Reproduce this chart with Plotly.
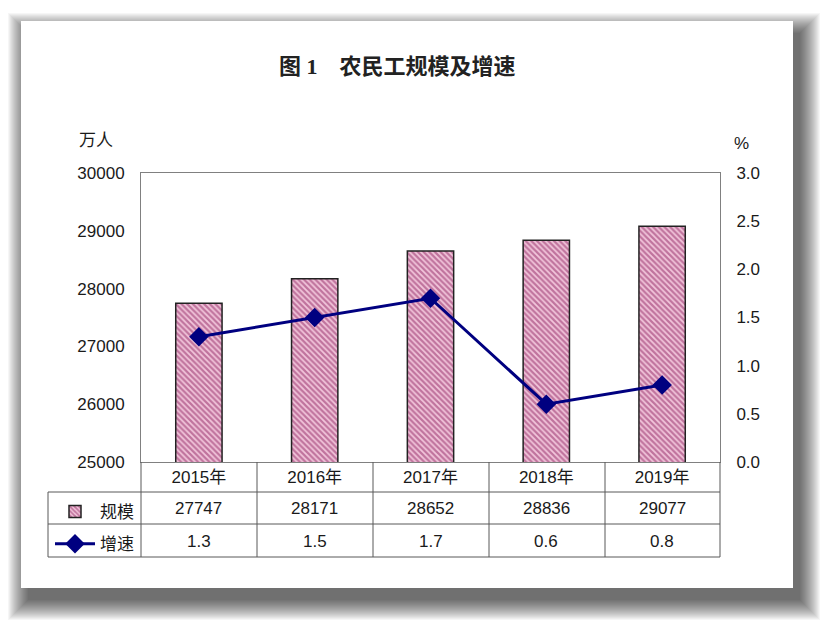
import plotly.graph_objects as go

years = ["2015年", "2016年", "2017年", "2018年", "2019年"]
scale = [27747, 28171, 28652, 28836, 29077]
growth = [1.3, 1.5, 1.7, 0.6, 0.8]

W, H = 835, 631
def px(x): return x / W
def py(y): return 1 - y / H

FONT = "Liberation Sans, Arial, Noto Sans CJK SC, sans-serif"
TXT = "#1a1a1a"
GRID = "#595959"

fig = go.Figure()
fig.add_trace(go.Bar(
    x=years, y=scale, name="规模", legendgroup="a",
    width=0.4,
    marker=dict(color="#F3D3E3", line=dict(color="#222222", width=1.5),
                pattern=dict(shape="\\", fgcolor="#8E2060", bgcolor="#F2C6DB", size=4, solidity=0.55)),
    yaxis="y", hoverinfo="skip"))
fig.add_trace(go.Scatter(
    x=years, y=growth, name="增速", legendgroup="b", mode="lines+markers",
    line=dict(color="#000080", width=3),
    marker=dict(symbol="diamond", size=15, color="#000080"),
    yaxis="y2", hoverinfo="skip"))

shapes = []
dx, dy = 7, 12
for s in range(20, -1, -1):
    shapes.append(dict(type="rect", xref="paper", yref="paper", layer="below",
                       x0=px(21 + dx - s), x1=px(793 + dx + s), y0=py(588 + dy + s), y1=py(21 + dy - s),
                       line=dict(width=0), fillcolor="rgba(0,0,0,0.035)"))
shapes.append(dict(type="rect", xref="paper", yref="paper", layer="below",
                   x0=px(21), x1=px(793), y0=py(588), y1=py(21),
                   line=dict(width=0), fillcolor="white"))

def hline(x0, x1, y):
    shapes.append(dict(type="line", xref="paper", yref="paper", x0=px(x0), x1=px(x1), y0=py(y), y1=py(y),
                       line=dict(color=GRID, width=1)))
def vline(x, y0, y1):
    shapes.append(dict(type="line", xref="paper", yref="paper", x0=px(x), x1=px(x), y0=py(y0), y1=py(y1),
                       line=dict(color=GRID, width=1)))

cols = [141, 257, 373, 489, 605, 720]
for c in cols:
    vline(c, 462, 557)
vline(48, 492, 557)
hline(48, 720, 492)
hline(48, 720, 524)
hline(48, 720, 557)

def note(x, y, text, xref="paper", size=17, family=FONT, color=TXT):
    return dict(x=x, xref=xref, y=y, yref="paper", text=text, showarrow=False,
                xanchor="center", yanchor="middle", font=dict(size=size, color=color, family=family))

annotations = []
for i, yr in enumerate(years):
    annotations.append(note(yr, py(508), str(scale[i]), xref="x"))
    annotations.append(note(yr, py(541), f"{growth[i]:.1f}", xref="x"))

annotations.append(note(px(397), py(66), "<b>图 1　农民工规模及增速</b>", size=22, color="#222",
                        family="Liberation Serif, Noto Sans CJK SC, serif"))
annotations.append(note(px(96), py(140), "万人"))
annotations.append(note(px(741), py(143), "%"))

axis_common = dict(showgrid=False, zeroline=False, ticks="", automargin=False,
                   tickfont=dict(size=17, color=TXT), fixedrange=True)

fig.update_layout(
    width=W, height=H, margin=dict(l=0, r=0, t=0, b=0, autoexpand=False),
    paper_bgcolor="white", plot_bgcolor="rgba(0,0,0,0)",
    font=dict(family=FONT, size=17, color=TXT),
    shapes=shapes, annotations=annotations,
    xaxis=dict(domain=[px(141), px(720)], showline=True, linecolor="#808080", mirror=True,
               **axis_common),
    yaxis=dict(domain=[py(462), py(173)], range=[25000, 30000], dtick=1000, tickformat="d",
               showline=True, linecolor="#808080", mirror=True, ticklabelstandoff=12, **axis_common),
    yaxis2=dict(overlaying="y", side="right", range=[0, 3.0], dtick=0.5, tickformat=".1f",
                showline=True, linecolor="#808080", ticklabelstandoff=12, **axis_common),
    showlegend=True,
    legend=dict(x=px(50), xanchor="left", y=py(494), yanchor="top", bgcolor="rgba(0,0,0,0)",
                itemwidth=40, tracegroupgap=7, font=dict(size=17, color=TXT), traceorder="grouped"),
)

fig.write_html("out.html")
